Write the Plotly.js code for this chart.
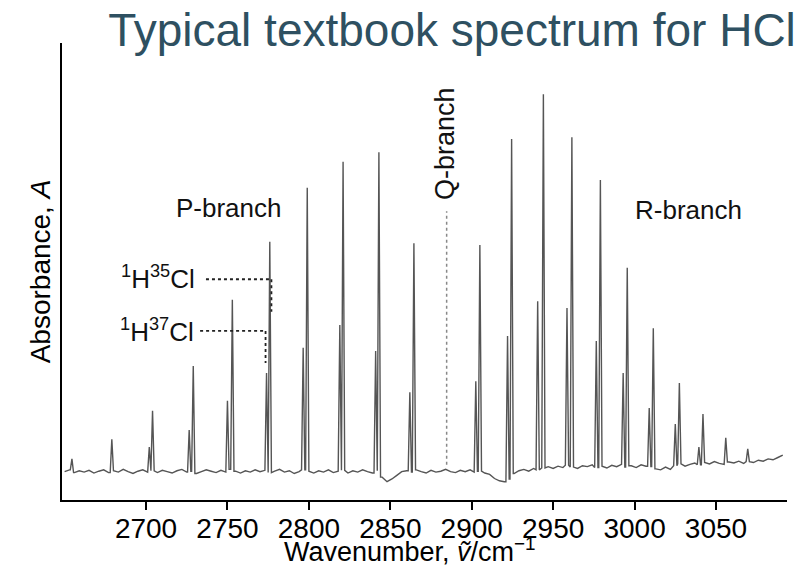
<!DOCTYPE html>
<html>
<head>
<meta charset="utf-8">
<script src="https://cdn.plot.ly/plotly-3.0.1.min.js"></script>
<style>html,body{margin:0;padding:0;background:#fff;}#chart{width:811px;height:568px;}</style>
</head>
<body>
<div id="chart"></div>
<script>
// ---- Data (absorbance in arbitrary units, 0–1000) ----
const tickValues = [2700, 2750, 2800, 2850, 2900, 2950, 3000, 3050];
const tickLabels = ["2700", "2750", "2800", "2850", "2900", "2950", "3000", "3050"];

// 1H35Cl lines (P-branch then R-branch)
const h35Wavenumber = [2654.5, 2679, 2704, 2729, 2753, 2776, 2799, 2821, 2843, 2864.5,
                       2905, 2924.5, 2944, 2961.5, 2979, 2995.5, 3011.5, 3027.5, 3042, 3056, 3069.5];
const h35Absorbance = [90, 133, 195, 293, 438, 565, 683, 740, 761, 562,
                       558, 790, 888, 794, 700, 508, 376, 256, 188, 136, 112];

// 1H37Cl lines
const h37Wavenumber = [2702, 2726.5, 2750, 2774, 2796.5, 2819, 2841, 2862,
                       2902.5, 2922, 2940.5, 2958.5, 2976.5, 2993, 3009, 3025, 3039.5];
const h37Absorbance = [116, 153, 217, 278, 333, 383, 326, 236,
                       260, 359, 435, 420, 348, 278, 201, 166, 116];

// Baseline (noisy) sampled from 2650 cm-1 every 3 cm-1
const baselineStart = 2650;
const baselineStep = 3;
const baselineAbsorbance = [
  62, 66, 60, 64, 61, 65, 59, 63, 66, 60,
  64, 61, 67, 62, 58, 63, 66, 61, 64, 60,
  65, 62, 59, 64, 67, 61, 63, 58, 62, 66,
  63, 60, 65, 61, 67, 63, 59, 64, 61, 66,
  62, 65, 60, 63, 67, 61, 64, 58, 62, 66,
  63, 59, 64, 61, 66, 60, 63, 65, 59, 64,
  61, 66, 62, 59, 64, 50, 40, 46, 54, 62,
  64, 61, 66, 62, 59, 65, 61, 63, 67, 62,
  60, 65, 62, 66, 61, 63, 59, 56, 47, 42,
  40, 46, 58, 64, 67, 63, 69, 66, 70, 73,
  69, 74, 71, 76, 72, 69, 75, 73, 77, 71,
  74, 70, 76, 73, 78, 72, 75, 71, 77, 74,
  73, 68, 66, 72, 67, 75, 79, 74, 78, 81,
  77, 82, 79, 84, 80, 78, 83, 81, 85, 80,
  84, 82, 87, 85, 90, 88, 93, 98
];
const qBranchWavenumber = 2884.6;

// ---- Build the spectrum line ----
const halfWidth = 1.0;
const baseX = baselineAbsorbance.map((_, i) => baselineStart + i * baselineStep);
function baseAt(x) {
  let idx = Math.round((x - baselineStart) / baselineStep);
  idx = Math.max(0, Math.min(baselineAbsorbance.length - 1, idx));
  return baselineAbsorbance[idx];
}
const peaksX = h35Wavenumber.concat(h37Wavenumber);
const peaksA = h35Absorbance.concat(h37Absorbance);
let pts = [];
baseX.forEach((x, i) => {
  if (!peaksX.some(p => Math.abs(p - x) <= halfWidth)) pts.push([x, baselineAbsorbance[i]]);
});
peaksX.forEach((p, i) => {
  pts.push([p - halfWidth, baseAt(p - halfWidth)]);
  pts.push([p, peaksA[i]]);
  pts.push([p + halfWidth, baseAt(p + halfWidth)]);
});
pts.sort((a, b) => a[0] - b[0]);

const font = "Liberation Sans, Arial, Helvetica, sans-serif";

const trace = {
  type: "scatter",
  mode: "lines",
  x: pts.map(p => p[0]),
  y: pts.map(p => p[1]),
  line: {color: "#555555", width: 1.4, simplify: false},
  hoverinfo: "x+y",
  showlegend: false
};

const layout = {
  width: 811, height: 568,
  margin: {l: 62, r: 24, t: 43, b: 68},
  paper_bgcolor: "#fff", plot_bgcolor: "#fff",
  font: {family: font, color: "#000"},
  title: {
    text: "Typical textbook spectrum for HCl",
    font: {family: font, size: 46, color: "#2e5061"},
    xref: "container", yref: "container",
    x: 452 / 811, xanchor: "center",
    y: 1 - 30 / 568, yanchor: "middle"
  },
  xaxis: {
    range: [2648.4, 3093.6],
    showline: true, linecolor: "#000", linewidth: 1.5,
    ticks: "outside", ticklen: 8, tickwidth: 1.5, tickcolor: "#000",
    ticklabelstandoff: -5,
    tickvals: tickValues, ticktext: tickLabels,
    tickfont: {family: font, size: 28, color: "#000"},
    showgrid: false, zeroline: false
  },
  yaxis: {
    range: [0, 1000],
    showline: true, linecolor: "#000", linewidth: 1.5,
    ticks: "", showticklabels: false,
    showgrid: false, zeroline: false,
    title: {text: "Absorbance, <i>A</i>", font: {family: font, size: 28, color: "#000"}, standoff: 1}
  },
  shapes: [
    {type: "line", xref: "x", yref: "y", x0: qBranchWavenumber, x1: qBranchWavenumber, y0: 77, y1: 632,
     line: {color: "#888", width: 1.5, dash: "dot"}},
    {type: "line", xref: "x", yref: "y", x0: 2736.8, x1: 2777, y0: 483, y1: 483,
     line: {color: "#222", width: 1.8, dash: "dot"}},
    {type: "line", xref: "x", yref: "y", x0: 2777, x1: 2777, y0: 483, y1: 412,
     line: {color: "#222", width: 1.8, dash: "dot"}},
    {type: "line", xref: "x", yref: "y", x0: 2733.2, x1: 2773.4, y0: 370, y1: 370,
     line: {color: "#222", width: 1.8, dash: "dot"}},
    {type: "line", xref: "x", yref: "y", x0: 2773.4, x1: 2773.4, y0: 370, y1: 300,
     line: {color: "#222", width: 1.8, dash: "dot"}}
  ],
  annotations: [
    {text: "Wavenumber, <i>ṽ</i>/cm<sup>−1</sup>", x: 0.48, y: -0.11, xref: "paper", yref: "paper",
     showarrow: false, font: {family: font, size: 27, color: "#000"}, xanchor: "center", yanchor: "middle"},
    {text: "P-branch", x: 2751, y: 639, xref: "x", yref: "y", showarrow: false,
     font: {family: font, size: 26, color: "#111"}, xanchor: "center", yanchor: "middle"},
    {text: "R-branch", x: 3033.4, y: 634, xref: "x", yref: "y", showarrow: false,
     font: {family: font, size: 26, color: "#111"}, xanchor: "center", yanchor: "middle"},
    {text: "Q-branch", x: 2883.6, y: 779, xref: "x", yref: "y", showarrow: false, textangle: -90,
     font: {family: font, size: 27, color: "#111"}, xanchor: "center", yanchor: "middle"},
    {text: "<sup>1</sup>H<sup>35</sup>Cl", x: 2731.3, y: 486, xref: "x", yref: "y", showarrow: false,
     font: {family: font, size: 26, color: "#111"}, xanchor: "right", yanchor: "middle"},
    {text: "<sup>1</sup>H<sup>37</sup>Cl", x: 2730.7, y: 372, xref: "x", yref: "y", showarrow: false,
     font: {family: font, size: 26, color: "#111"}, xanchor: "right", yanchor: "middle"}
  ]
};

Plotly.newPlot("chart", [trace], layout, {displayModeBar: false});
</script>
</body>
</html>
